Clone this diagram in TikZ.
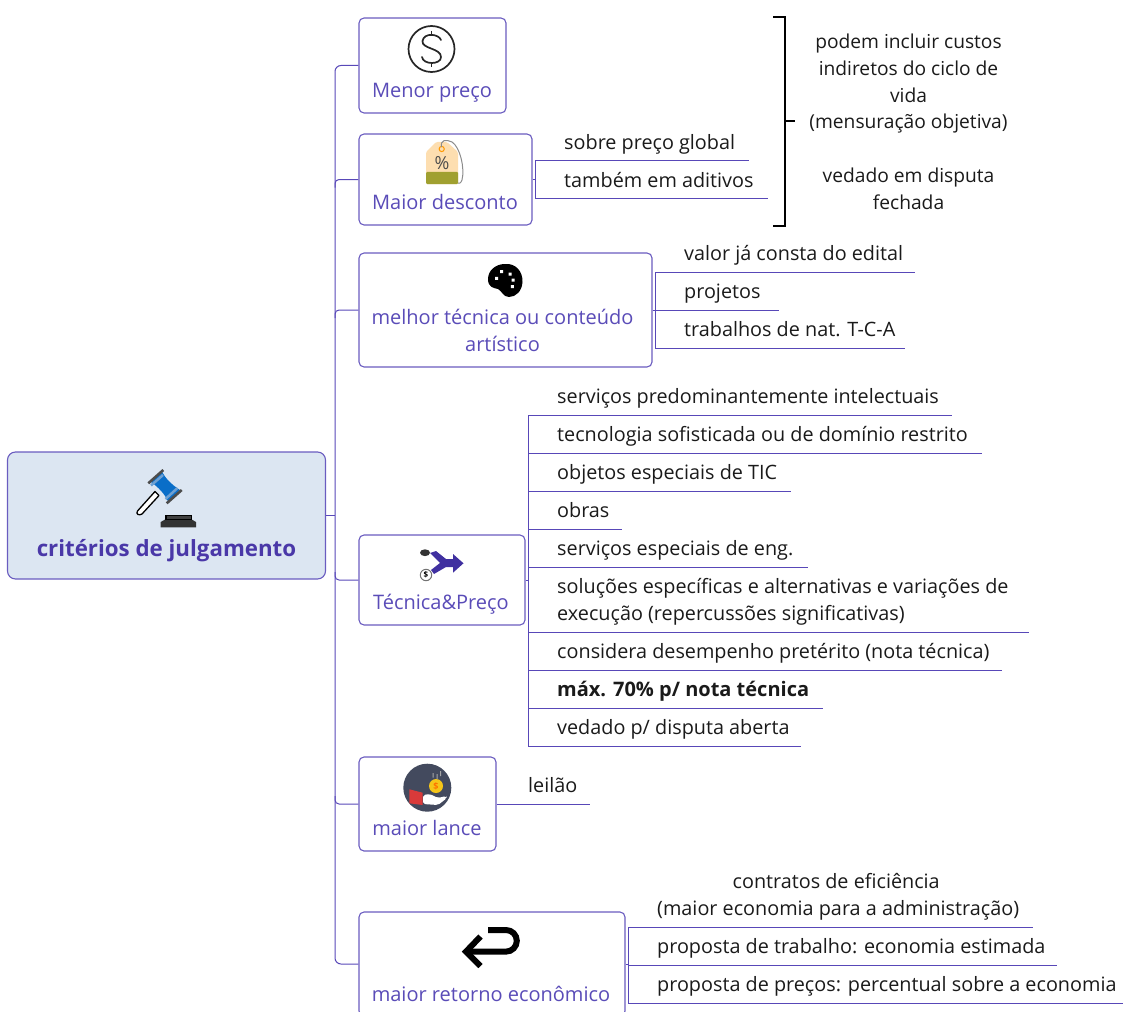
\documentclass[tikz,border=0pt]{standalone}
\usepackage{fontspec}
\usetikzlibrary{calc}
\setmainfont{Open Sans}
\begin{document}
\begin{tikzpicture}[x=1pt,y=-1pt,
  link/.style={draw=linkc,line width=1pt},
  box/.style={draw=boxc,line width=1.1pt,rounded corners=5pt,fill=white,inner sep=0pt},
  label/.style={text=labelc,font=\fontsize{20}{27}\selectfont,align=center,inner sep=0pt},
  leaftext/.style={text=leafc,font=\fontsize{19.8}{27}\selectfont,inner sep=0pt,text depth=5pt,align=left,anchor=south west},
]
\definecolor{linkc}{HTML}{5848B8}
\definecolor{boxc}{HTML}{6A5CC0}
\definecolor{labelc}{HTML}{5A4CB8}
\definecolor{leafc}{HTML}{1A1A1A}
\definecolor{rootfill}{HTML}{DCE6F2}
\definecolor{rootc}{HTML}{4A38A8}
\useasboundingbox (0,0) rectangle (1123,1011);
\newcommand{\leaf}[6][]{%
  \node[leaftext,#1] (#2) at (#3+29,#5-6) {#6};
  \coordinate (#2l) at (#3,#5);
  \coordinate (#2r) at (#4,#5);
  \draw[link] (#2l) -- (#2r);
}
% boxes
\coordinate (bus) at (335,515);
\node[box,fill=rootfill,rounded corners=8pt,minimum width=318pt,minimum height=127pt] (root) at (166.5,515.5) {};
\node[box,minimum width=147pt,minimum height=95pt] (n1) at (432.5,65.5) {};
\node[box,minimum width=173pt,minimum height=91pt] (n2) at (445.5,179.5) {};
\node[box,minimum width=293pt,minimum height=114pt] (n3) at (505.5,310) {};
\node[box,minimum width=166pt,minimum height=90pt] (n4) at (442,580) {};
\node[box,minimum width=137pt,minimum height=94pt] (n5) at (427.5,804) {};
\node[box,minimum width=266pt,minimum height=104pt] (n6) at (492,964) {};
% box labels
\node[label,text=rootc,font=\bfseries\fontsize{22.3}{27}\selectfont] (troot) at (166.5,551) {critérios de julgamento};
\node[label] (t1) at (432,93) {Menor preço};
\node[label] (t2) at (445,202) {Maior desconto};
\node[label] (t3) at (502.5,330.5) {melhor técnica ou conteúdo\\artístico};
\node[label] (t4) at (441,604) {Técnica\&Preço};
\node[label] (t5) at (427,828) {maior lance};
\node[label] (t6) at (491,994) {maior retorno econômico};
% main bus
\draw[link,rounded corners=6pt] (n1.west) -- (n1.west -| bus) -- (n6.west -| bus) -- (n6.west);
\draw[link] (root.east |- bus) -- (bus);
\draw[link,rounded corners=4pt] ($(bus|-n2.west)+(0,8)$) -- (bus|-n2.west) -- (n2.west);
\draw[link,rounded corners=4pt] ($(bus|-n3.west)+(0,8)$) -- (bus|-n3.west) -- (n3.west);
\draw[link,rounded corners=4pt] ($(bus|-n4.west)+(0,-8)$) -- (bus|-n4.west) -- (n4.west);
\draw[link,rounded corners=4pt] ($(bus|-n5.west)+(0,-8)$) -- (bus|-n5.west) -- (n5.west);
% maior desconto leaves
\leaf{a1}{535}{749}{160.5}{sobre preço global}
\leaf{a2}{535}{768}{198.5}{também em aditivos}
\draw[link] (a1l) -- (a2l);
\draw[link] (n2.east) -- (n2.east -| a1l);
% melhor tecnica leaves
\leaf{b1}{655}{915}{272}{valor já consta do edital}
\leaf{b2}{655}{779}{310}{projetos}
\leaf{b3}{655}{905}{348}{trabalhos de nat. T-C-A}
\draw[link] (b1l) -- (b3l);
\draw[link] (n3.east) -- (b2l);
% tecnica & preco leaves
\leaf{c1}{528}{952}{415}{serviços predominantemente intelectuais}
\leaf{c2}{528}{982}{453}{tecnologia sofisticada ou de domínio restrito}
\leaf{c3}{528}{791}{491}{objetos especiais de TIC}
\leaf{c4}{528}{622}{529}{obras}
\leaf{c5}{528}{808}{567}{serviços especiais de eng.}
\leaf{c6}{528}{1029}{632}{soluções específicas e alternativas e variações de\\execução (repercussões significativas)}
\leaf{c7}{528}{1002}{670}{considera desempenho pretérito (nota técnica)}
\leaf{c8}{528}{823}{708}{\fontsize{20}{27}\selectfont\textbf{máx. 70\% p/ nota técnica}}
\leaf{c9}{528}{801}{746}{vedado p/ disputa aberta}
\draw[link] (c1l) -- (c9l);
\draw[link] (n4.east) -- (n4.east -| c1l);
% maior lance leaf
\node[leaftext] (d1) at (528,798) {leilão};
\coordinate (d1r) at (590,804);
\draw[link] (n5.east) -- (n5.east -| d1r);
% maior retorno leaves
\leaf[align=center]{e1}{628}{1033}{927}{contratos de eficiência\hspace*{4pt}\\(maior economia para a administração)}
\leaf{e2}{628}{1057}{965}{proposta de trabalho: economia estimada}
\leaf{e3}{628}{1123}{1003}{proposta de preços: percentual sobre a economia}
\draw[link] (e1l) -- (e3l);
\draw[link] (n6.east) -- (n6.east -| e1l);
% bracket and note
\node[text=leafc,font=\fontsize{19.2}{26.9}\selectfont,align=center,inner sep=0pt,anchor=north] (note) at (908.5,33.5) {podem incluir custos\\indiretos do ciclo de\\vida\\(mensuração objetiva)\\[26.9pt]vedado em disputa\\fechada};
\coordinate (brt) at (785,17);
\coordinate (brb) at (785,226);
\coordinate (brm) at (795,121.5);
\draw[black,line width=2pt] (773,17) -- (brt) -- (brb) -- (773,226);
\draw[black,line width=2pt] (brt|-brm) -- (brm);
% icon: dollar
\draw[line width=1.7pt,black!85] (431.5,49) circle (23);
\draw[line width=1.7pt,black!85,line cap=round] (441,40) .. controls (439,34) and (424,32) .. (422.5,41) .. controls (421.5,49) and (441,48) .. (441,57) .. controls (441,65) and (423,65) .. (422,57);
\draw[line width=1.7pt,black!85] (431.5,31) -- (431.5,35.5) (431.5,62.5) -- (431.5,67);
% icon: price tag
\fill[rounded corners=1.5pt,fill={rgb,255:red,253;green,222;blue,176}] (426,152) -- (436,142) -- (447,142) -- (458,152) -- (458,184) -- (426,184) -- cycle;
\fill[rounded corners=1pt,fill={rgb,255:red,160;green,160;blue,48}] (426,172) -- (458,172) -- (458,184) -- (426,184) -- cycle;
\draw[orange!80!yellow,line width=1pt] (441.7,149) circle (2.6);
\draw[black!45,line width=1pt] (441.5,147) .. controls (440,140) and (446,139) .. (452,142) .. controls (460,147) and (465,168) .. (462,180) .. controls (461,183) and (459,184) .. (458,183);
\node[text=black!70,font=\fontsize{18}{18}\selectfont,inner sep=0pt] (pct) at (442,163) {\%};
% icon: palette
\fill[black] (505,264) .. controls (516,263) and (523,272) .. (522.5,282) .. controls (522,291) and (516,297) .. (509,297) .. controls (503,297) and (502,291) .. (498,289) .. controls (493,288) and (488,287) .. (488,279) .. controls (488,271) and (495,264) .. (505,264) -- cycle;
\fill[white] (500.2,270.2) rectangle ++(3,3) (508.5,272.5) rectangle ++(3,3) (511.5,278.5) rectangle ++(3,3) (510.8,285.2) rectangle ++(3,3) (495.2,276.8) rectangle ++(3,3);
% icon: tecnica e preco arrow
\definecolor{arrowc}{HTML}{4030A0}
\fill[arrowc] (430,553) -- (436,551) -- (446,559) -- (453,559) -- (453,554) -- (463.5,563.3) -- (453,572.7) -- (453,567) -- (446,567) -- (434,574) -- (431,570) -- (440,563) -- cycle;
\fill[black!80] (425,552.7) ellipse (5 and 3.4);
\draw[black!55,fill=white,line width=1pt] (426,575) circle (5.7);
\node[black,font=\bfseries\fontsize{8}{8}\selectfont,inner sep=0pt] (dol) at (426,575) {\$};
% icon: maior lance
\fill[fill={rgb,255:red,67;green,74;blue,94}] (427.3,787.7) circle (24);
\fill[fill={rgb,255:red,217;green,58;blue,58}] (409.3,789.3) -- (422.7,792.7) -- (422.7,805) -- (409.3,803.3) -- cycle;
\fill[white,rounded corners=2pt] (423,795) -- (430,794) -- (438,798) -- (446,796) -- (447,798) -- (438,805) -- (423,804) -- cycle;
\fill[fill={rgb,255:red,245;green,197;blue,24}] (436,786) circle (7);
\node[text=orange!90!red,font=\bfseries\fontsize{9}{9}\selectfont,inner sep=0pt] (coin) at (436,786) {\$};
\fill[black!35] (432.5,773) rectangle ++(1,4.5) (436.5,774) rectangle ++(1,5) (440,771) rectangle ++(1,5);
% icon: return arrow
\draw[black,line width=6pt] (488,930) -- (506,930) arc[start angle=-90,end angle=90,radius=10.8] -- (467,951.6);
\draw[black,line width=6pt,line join=miter] (480.5,936.5) -- (466,951.6) -- (480.5,966);
% icon: gavel
\draw[black,line width=1.3pt,fill=white,line join=round] (137.5,511) -- (155,491.5) -- (159,495.5) -- (142,514) .. controls (139,516) and (135.5,514) .. (137.5,511) -- cycle;
\fill[fill={rgb,255:red,10;green,110;blue,200}] (151,482) -- (162,471.5) .. controls (165,478) and (172,485) .. (180,490) -- (168,501.5) .. controls (165,494) and (158,487) .. (151,482) -- cycle;
\draw[draw={rgb,255:red,110;green,160;blue,210},line width=2.5pt] (165.5,499) -- (177.5,488);
\draw[draw={rgb,255:red,110;green,160;blue,210},line width=2.5pt] (151,485.5) -- (163,475);
\draw[black!70,line width=2.6pt] (148.3,483.3) -- (163.3,470);
\draw[black!70,line width=2.6pt] (166.7,503.3) -- (181.7,490);
\fill[black!80] (160.7,527.3) -- (160.7,522) -- (166,519) -- (191,519) -- (196,522) -- (196,527.3) -- cycle;
\draw[black,line width=1.2pt,fill=black!75] (166,515.3) rectangle (191.5,519.5);
\end{tikzpicture}
\end{document}
